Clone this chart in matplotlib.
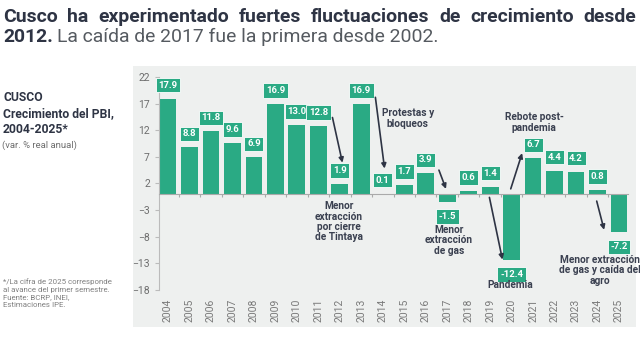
import numpy as np
import matplotlib
matplotlib.use("Agg")
import matplotlib.pyplot as plt
from matplotlib.patches import Rectangle
import matplotlib.transforms as mtransforms

plt.rcParams["font.family"] = ["Roboto", "DejaVu Sans"]

# --- Data ---
years = [str(y) for y in range(2004, 2026)]
growth = [17.9, 8.8, 11.8, 9.6, 6.9, 16.9, 13.0, 12.8, 1.9, 16.9, 0.1,
          1.7, 3.9, -1.5, 0.6, 1.4, -12.4, 6.7, 4.4, 4.2, 0.8, -7.2]
yticks = [22, 17, 12, 7, 2, -3, -8, -13, -18]

# annotation texts (text, x, y) and arrows ((x0, y0), (x1, y1)) in data units
notes = [
    ("Menor\nextracción\npor cierre\nde Tintaya", 7.96, -5.2),
    ("Protestas y\nbloqueos", 11.17, 14.2),
    ("Menor\nextracción\nde gas", 13.08, -8.7),
    ("Pandemia", 15.92, -17.1),
    ("Rebote post-\npandemia", 17.04, 13.45),
    ("Menor extracción\nde gas y caída del\nagro", 20.1, -14.3),
]
arrows = [
    ((7.63, 14.9), (8.15, 5.4)),
    ((9.64, 18.7), (10.1, 4.3)),
    ((12.57, 5.0), (12.99, 0.5)),
    ((14.94, -0.1), (15.6, -12.8)),
    ((15.92, 0.5), (16.53, 8.2)),
    ((19.93, -0.8), (20.34, -7.2)),
]

GREEN = "#2aaa84"
DARK = "#2e3444"
GRAY = "#6e6e6e"

fig = plt.figure(figsize=(6.4, 3.4), dpi=100)
fig.patch.set_facecolor("white")

# light panel behind the chart
fig.patches.append(Rectangle((133 / 640, 1 - 327 / 340), (636 - 133) / 640, (327 - 66) / 340,
                             transform=fig.transFigure, facecolor="#eef0ef",
                             edgecolor="none", zorder=-5))

ax = fig.add_axes([159 / 640, 1 - 290 / 340, (628 - 159) / 640, (290 - 77) / 340])
ax.set_zorder(2)
ax.set_facecolor("none")

x = np.arange(len(years))
ax.bar(x, growth, width=0.78, color=GREEN, zorder=2)

ax.set_xlim(-0.42, len(years) - 1 + 0.42)
ax.set_ylim(-18, 22)
ax.set_yticks(yticks)
ax.tick_params(axis="y", labelsize=7.5, colors="#bbbbbb", labelcolor=GRAY, length=3, width=0.8)

for s in ["top", "right"]:
    ax.spines[s].set_visible(False)
ax.spines["left"].set_color("#bbbbbb")
ax.spines["bottom"].set_position(("data", 0))
ax.spines["bottom"].set_color("#aaaaaa")
ax.spines["bottom"].set_zorder(3)
ax.set_xticks(x[:-1] + 0.5)
ax.set_xticklabels([])
ax.tick_params(axis="x", length=2.5, colors="#aaaaaa", direction="out")

# year labels at bottom
trans = mtransforms.blended_transform_factory(ax.transData, ax.transAxes)
for xi, yr in zip(x, years):
    ax.text(xi, -0.04, yr, transform=trans, rotation=90, ha="center", va="top",
            fontsize=7.5, color="#7a7a7a")

# value labels in green boxes
for xi, v in zip(x, growth):
    off = 6.5 if v >= 0 else -7
    ax.annotate(f"{v:.1f}", (xi, v), xytext=(0, off), textcoords="offset points",
                ha="center", va="bottom" if v >= 0 else "top",
                fontsize=6.8, fontweight="bold", color="white", zorder=4,
                bbox=dict(boxstyle="square,pad=0.28", facecolor=GREEN, edgecolor="white", linewidth=0.6))

for (x0, y0), (x1, y1) in arrows:
    ax.annotate("", xy=(x1, y1), xytext=(x0, y0),
                arrowprops=dict(arrowstyle="-|>", color=DARK, lw=1.2, mutation_scale=7), zorder=5)

for txt, tx, ty in notes:
    ax.text(tx, ty, txt, ha="center", va="center", fontsize=7.3, fontweight="bold",
            color="#3a4050", linespacing=1.05, zorder=5)

# left side texts
fig.text(3 / 640, 1 - 91 / 340, "CUSCO\nCrecimiento del PBI,\n2004-2025*", fontsize=8.7,
         fontweight="bold", color=DARK, va="top", linespacing=1.3)
fig.text(2 / 640, 1 - 145 / 340, "(var. % real anual)", fontsize=6.8, color=GRAY, va="center")
fig.text(3 / 640, 1 - 278 / 340,
         "*/La cifra de 2025 corresponde\nal avance del primer semestre.\nFuente: BCRP, INEI,\nEstimaciones IPE.",
         fontsize=5.7, color="#808080", va="top", linespacing=1.35)

# justified title, first line
renderer = fig.canvas.get_renderer()
words = "Cusco ha experimentado fuertes fluctuaciones de crecimiento desde".split()
probe = fig.text(0, 0, " ".join(words), fontsize=10, fontweight="bold")
base_w = probe.get_window_extent(renderer).width
probe.remove()
fsize = 10 * 600 / base_w

texts = [fig.text(0, 1 - 17 / 340, w, fontsize=fsize, fontweight="bold", color=DARK,
                  va="center") for w in words]
widths = [t.get_window_extent(renderer).width for t in texts]
gap = (633 - sum(widths)) / (len(words) - 1)
pos = 3
for t, w in zip(texts, widths):
    t.set_x(pos / 640)
    pos += w + gap

t1 = fig.text(3 / 640, 1 - 37 / 340, "2012.", fontsize=fsize, fontweight="bold", color=DARK,
              va="center")
w1 = t1.get_window_extent(renderer).width
fig.text((3 + w1 + 4) / 640, 1 - 37 / 340, "La caída de 2017 fue la primera desde 2002.",
         fontsize=fsize, color="#555a60", va="center")

fig.savefig("out.png", dpi=100)
